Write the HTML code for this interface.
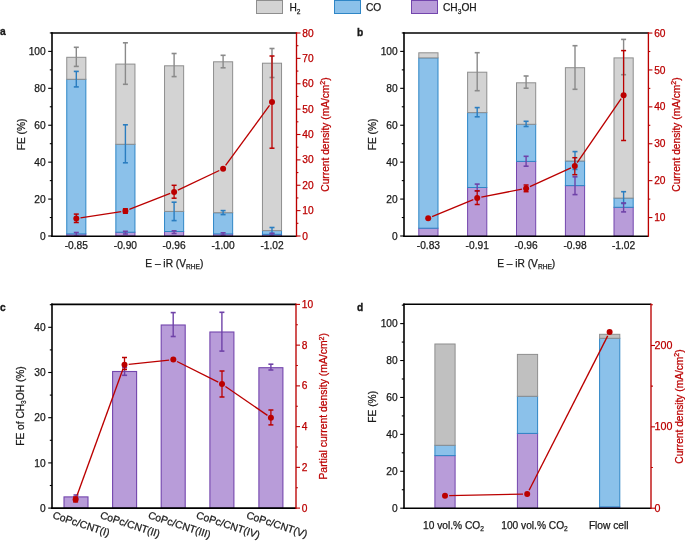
<!DOCTYPE html>
<html><head><meta charset="utf-8"><style>
html,body{margin:0;padding:0;background:#fff;width:685px;height:541px;overflow:hidden}
svg{display:block;will-change:transform}
text{font-family:"Liberation Sans", sans-serif}
</style></head><body>
<svg width="685" height="541" viewBox="0 0 685 541">
<rect x="0" y="0" width="685" height="541" fill="#fff"/>
<rect x="256.50" y="0.50" width="26.00" height="13.00" fill="#d3d3d3" stroke="#8e8e8e" stroke-width="1.0"/>
<text x="289.50" y="11.20" font-size="10.2" text-anchor="start" fill="#1a1a1a" stroke="#1a1a1a" stroke-width="0.25" font-weight="normal"><tspan font-size="10.2" dy="0.00">H</tspan><tspan font-size="6.6" dy="2.40">2</tspan></text>
<rect x="334.50" y="0.50" width="26.00" height="13.00" fill="#8bc1ea" stroke="#2f86c6" stroke-width="1.0"/>
<text x="366.00" y="11.20" font-size="10.2" text-anchor="start" fill="#1a1a1a" stroke="#1a1a1a" stroke-width="0.25" font-weight="normal">CO</text>
<rect x="411.50" y="0.50" width="26.00" height="13.00" fill="#b89cd9" stroke="#7346ad" stroke-width="1.0"/>
<text x="443.00" y="11.20" font-size="10.2" text-anchor="start" fill="#1a1a1a" stroke="#1a1a1a" stroke-width="0.25" font-weight="normal"><tspan font-size="10.2" dy="0.00">CH</tspan><tspan font-size="6.6" dy="2.40">3</tspan><tspan font-size="10.2" dy="-2.40">OH</tspan></text>
<rect x="66.75" y="233.90" width="19.10" height="2.10" fill="#b89cd9" stroke="#7346ad" stroke-width="1.0"/>
<rect x="66.75" y="79.30" width="19.10" height="154.60" fill="#8bc1ea" stroke="#2f86c6" stroke-width="1.0"/>
<rect x="66.75" y="57.30" width="19.10" height="22.00" fill="#d3d3d3" stroke="#8e8e8e" stroke-width="1.0"/>
<rect x="115.85" y="232.20" width="19.10" height="3.80" fill="#b89cd9" stroke="#7346ad" stroke-width="1.0"/>
<rect x="115.85" y="144.30" width="19.10" height="87.90" fill="#8bc1ea" stroke="#2f86c6" stroke-width="1.0"/>
<rect x="115.85" y="64.10" width="19.10" height="80.20" fill="#d3d3d3" stroke="#8e8e8e" stroke-width="1.0"/>
<rect x="164.55" y="231.50" width="19.10" height="4.50" fill="#b89cd9" stroke="#7346ad" stroke-width="1.0"/>
<rect x="164.55" y="211.40" width="19.10" height="20.10" fill="#8bc1ea" stroke="#2f86c6" stroke-width="1.0"/>
<rect x="164.55" y="65.80" width="19.10" height="145.60" fill="#d3d3d3" stroke="#8e8e8e" stroke-width="1.0"/>
<rect x="213.55" y="233.90" width="19.10" height="2.10" fill="#b89cd9" stroke="#7346ad" stroke-width="1.0"/>
<rect x="213.55" y="212.70" width="19.10" height="21.20" fill="#8bc1ea" stroke="#2f86c6" stroke-width="1.0"/>
<rect x="213.55" y="61.80" width="19.10" height="150.90" fill="#d3d3d3" stroke="#8e8e8e" stroke-width="1.0"/>
<rect x="262.45" y="234.30" width="19.10" height="1.70" fill="#b89cd9" stroke="#7346ad" stroke-width="1.0"/>
<rect x="262.45" y="230.60" width="19.10" height="3.70" fill="#8bc1ea" stroke="#2f86c6" stroke-width="1.0"/>
<rect x="262.45" y="63.20" width="19.10" height="167.40" fill="#d3d3d3" stroke="#8e8e8e" stroke-width="1.0"/>
<line x1="76.30" y1="47.30" x2="76.30" y2="66.40" stroke="#8a8a8a" stroke-width="1.4"/>
<line x1="73.80" y1="47.30" x2="78.80" y2="47.30" stroke="#8a8a8a" stroke-width="1.5999999999999999"/>
<line x1="73.80" y1="66.40" x2="78.80" y2="66.40" stroke="#8a8a8a" stroke-width="1.5999999999999999"/>
<line x1="125.40" y1="42.80" x2="125.40" y2="84.30" stroke="#8a8a8a" stroke-width="1.4"/>
<line x1="122.90" y1="42.80" x2="127.90" y2="42.80" stroke="#8a8a8a" stroke-width="1.5999999999999999"/>
<line x1="122.90" y1="84.30" x2="127.90" y2="84.30" stroke="#8a8a8a" stroke-width="1.5999999999999999"/>
<line x1="174.10" y1="53.50" x2="174.10" y2="76.60" stroke="#8a8a8a" stroke-width="1.4"/>
<line x1="171.60" y1="53.50" x2="176.60" y2="53.50" stroke="#8a8a8a" stroke-width="1.5999999999999999"/>
<line x1="171.60" y1="76.60" x2="176.60" y2="76.60" stroke="#8a8a8a" stroke-width="1.5999999999999999"/>
<line x1="223.10" y1="55.30" x2="223.10" y2="67.80" stroke="#8a8a8a" stroke-width="1.4"/>
<line x1="220.60" y1="55.30" x2="225.60" y2="55.30" stroke="#8a8a8a" stroke-width="1.5999999999999999"/>
<line x1="220.60" y1="67.80" x2="225.60" y2="67.80" stroke="#8a8a8a" stroke-width="1.5999999999999999"/>
<line x1="272.00" y1="48.50" x2="272.00" y2="77.50" stroke="#8a8a8a" stroke-width="1.4"/>
<line x1="269.50" y1="48.50" x2="274.50" y2="48.50" stroke="#8a8a8a" stroke-width="1.5999999999999999"/>
<line x1="269.50" y1="77.50" x2="274.50" y2="77.50" stroke="#8a8a8a" stroke-width="1.5999999999999999"/>
<line x1="76.30" y1="71.40" x2="76.30" y2="86.90" stroke="#2a7dc0" stroke-width="1.4"/>
<line x1="73.80" y1="71.40" x2="78.80" y2="71.40" stroke="#2a7dc0" stroke-width="1.5999999999999999"/>
<line x1="73.80" y1="86.90" x2="78.80" y2="86.90" stroke="#2a7dc0" stroke-width="1.5999999999999999"/>
<line x1="125.40" y1="124.80" x2="125.40" y2="162.80" stroke="#2a7dc0" stroke-width="1.4"/>
<line x1="122.90" y1="124.80" x2="127.90" y2="124.80" stroke="#2a7dc0" stroke-width="1.5999999999999999"/>
<line x1="122.90" y1="162.80" x2="127.90" y2="162.80" stroke="#2a7dc0" stroke-width="1.5999999999999999"/>
<line x1="174.10" y1="202.20" x2="174.10" y2="220.60" stroke="#2a7dc0" stroke-width="1.4"/>
<line x1="171.60" y1="202.20" x2="176.60" y2="202.20" stroke="#2a7dc0" stroke-width="1.5999999999999999"/>
<line x1="171.60" y1="220.60" x2="176.60" y2="220.60" stroke="#2a7dc0" stroke-width="1.5999999999999999"/>
<line x1="223.10" y1="210.60" x2="223.10" y2="214.60" stroke="#2a7dc0" stroke-width="1.4"/>
<line x1="220.60" y1="210.60" x2="225.60" y2="210.60" stroke="#2a7dc0" stroke-width="1.5999999999999999"/>
<line x1="220.60" y1="214.60" x2="225.60" y2="214.60" stroke="#2a7dc0" stroke-width="1.5999999999999999"/>
<line x1="272.00" y1="227.50" x2="272.00" y2="233.50" stroke="#2a7dc0" stroke-width="1.4"/>
<line x1="269.50" y1="227.50" x2="274.50" y2="227.50" stroke="#2a7dc0" stroke-width="1.5999999999999999"/>
<line x1="269.50" y1="233.50" x2="274.50" y2="233.50" stroke="#2a7dc0" stroke-width="1.5999999999999999"/>
<line x1="76.30" y1="232.50" x2="76.30" y2="236.00" stroke="#6f42a8" stroke-width="1.4"/>
<line x1="73.80" y1="232.50" x2="78.80" y2="232.50" stroke="#6f42a8" stroke-width="1.5999999999999999"/>
<line x1="73.80" y1="236.00" x2="78.80" y2="236.00" stroke="#6f42a8" stroke-width="1.5999999999999999"/>
<line x1="125.40" y1="231.30" x2="125.40" y2="234.00" stroke="#6f42a8" stroke-width="1.4"/>
<line x1="122.90" y1="231.30" x2="127.90" y2="231.30" stroke="#6f42a8" stroke-width="1.5999999999999999"/>
<line x1="122.90" y1="234.00" x2="127.90" y2="234.00" stroke="#6f42a8" stroke-width="1.5999999999999999"/>
<line x1="174.10" y1="230.80" x2="174.10" y2="233.50" stroke="#6f42a8" stroke-width="1.4"/>
<line x1="171.60" y1="230.80" x2="176.60" y2="230.80" stroke="#6f42a8" stroke-width="1.5999999999999999"/>
<line x1="171.60" y1="233.50" x2="176.60" y2="233.50" stroke="#6f42a8" stroke-width="1.5999999999999999"/>
<line x1="223.10" y1="232.80" x2="223.10" y2="235.20" stroke="#6f42a8" stroke-width="1.4"/>
<line x1="220.60" y1="232.80" x2="225.60" y2="232.80" stroke="#6f42a8" stroke-width="1.5999999999999999"/>
<line x1="220.60" y1="235.20" x2="225.60" y2="235.20" stroke="#6f42a8" stroke-width="1.5999999999999999"/>
<line x1="272.00" y1="233.30" x2="272.00" y2="235.50" stroke="#6f42a8" stroke-width="1.4"/>
<line x1="269.50" y1="233.30" x2="274.50" y2="233.30" stroke="#6f42a8" stroke-width="1.5999999999999999"/>
<line x1="269.50" y1="235.50" x2="274.50" y2="235.50" stroke="#6f42a8" stroke-width="1.5999999999999999"/>
<line x1="52.00" y1="32.20" x2="52.00" y2="237.10" stroke="#000" stroke-width="1.6"/>
<line x1="51.20" y1="33.00" x2="296.50" y2="33.00" stroke="#000" stroke-width="1.6"/>
<line x1="51.20" y1="236.30" x2="296.50" y2="236.30" stroke="#000" stroke-width="1.6"/>
<line x1="48.20" y1="236.00" x2="52.00" y2="236.00" stroke="#000" stroke-width="1.1"/>
<text x="45.70" y="239.60" font-size="10.2" text-anchor="end" fill="#1a1a1a" stroke="#1a1a1a" stroke-width="0.25" font-weight="normal">0</text>
<line x1="48.20" y1="199.08" x2="52.00" y2="199.08" stroke="#000" stroke-width="1.1"/>
<text x="45.70" y="202.68" font-size="10.2" text-anchor="end" fill="#1a1a1a" stroke="#1a1a1a" stroke-width="0.25" font-weight="normal">20</text>
<line x1="48.20" y1="162.16" x2="52.00" y2="162.16" stroke="#000" stroke-width="1.1"/>
<text x="45.70" y="165.76" font-size="10.2" text-anchor="end" fill="#1a1a1a" stroke="#1a1a1a" stroke-width="0.25" font-weight="normal">40</text>
<line x1="48.20" y1="125.24" x2="52.00" y2="125.24" stroke="#000" stroke-width="1.1"/>
<text x="45.70" y="128.84" font-size="10.2" text-anchor="end" fill="#1a1a1a" stroke="#1a1a1a" stroke-width="0.25" font-weight="normal">60</text>
<line x1="48.20" y1="88.32" x2="52.00" y2="88.32" stroke="#000" stroke-width="1.1"/>
<text x="45.70" y="91.92" font-size="10.2" text-anchor="end" fill="#1a1a1a" stroke="#1a1a1a" stroke-width="0.25" font-weight="normal">80</text>
<line x1="48.20" y1="51.40" x2="52.00" y2="51.40" stroke="#000" stroke-width="1.1"/>
<text x="45.70" y="55.00" font-size="10.2" text-anchor="end" fill="#1a1a1a" stroke="#1a1a1a" stroke-width="0.25" font-weight="normal">100</text>
<line x1="49.80" y1="217.54" x2="52.00" y2="217.54" stroke="#000" stroke-width="1.1"/>
<line x1="49.80" y1="180.62" x2="52.00" y2="180.62" stroke="#000" stroke-width="1.1"/>
<line x1="49.80" y1="143.70" x2="52.00" y2="143.70" stroke="#000" stroke-width="1.1"/>
<line x1="49.80" y1="106.78" x2="52.00" y2="106.78" stroke="#000" stroke-width="1.1"/>
<line x1="49.80" y1="69.86" x2="52.00" y2="69.86" stroke="#000" stroke-width="1.1"/>
<line x1="49.80" y1="32.94" x2="52.00" y2="32.94" stroke="#000" stroke-width="1.1"/>
<line x1="296.50" y1="32.15" x2="296.50" y2="236.85" stroke="#bb0000" stroke-width="1.35"/>
<line x1="296.50" y1="236.00" x2="300.50" y2="236.00" stroke="#bb0000" stroke-width="1.1"/>
<text x="302.30" y="239.60" font-size="10.2" text-anchor="start" fill="#bb0000" stroke="#bb0000" stroke-width="0.25" font-weight="normal">0</text>
<line x1="296.50" y1="210.62" x2="300.50" y2="210.62" stroke="#bb0000" stroke-width="1.1"/>
<text x="302.30" y="214.22" font-size="10.2" text-anchor="start" fill="#bb0000" stroke="#bb0000" stroke-width="0.25" font-weight="normal">10</text>
<line x1="296.50" y1="185.25" x2="300.50" y2="185.25" stroke="#bb0000" stroke-width="1.1"/>
<text x="302.30" y="188.85" font-size="10.2" text-anchor="start" fill="#bb0000" stroke="#bb0000" stroke-width="0.25" font-weight="normal">20</text>
<line x1="296.50" y1="159.88" x2="300.50" y2="159.88" stroke="#bb0000" stroke-width="1.1"/>
<text x="302.30" y="163.47" font-size="10.2" text-anchor="start" fill="#bb0000" stroke="#bb0000" stroke-width="0.25" font-weight="normal">30</text>
<line x1="296.50" y1="134.50" x2="300.50" y2="134.50" stroke="#bb0000" stroke-width="1.1"/>
<text x="302.30" y="138.10" font-size="10.2" text-anchor="start" fill="#bb0000" stroke="#bb0000" stroke-width="0.25" font-weight="normal">40</text>
<line x1="296.50" y1="109.12" x2="300.50" y2="109.12" stroke="#bb0000" stroke-width="1.1"/>
<text x="302.30" y="112.72" font-size="10.2" text-anchor="start" fill="#bb0000" stroke="#bb0000" stroke-width="0.25" font-weight="normal">50</text>
<line x1="296.50" y1="83.75" x2="300.50" y2="83.75" stroke="#bb0000" stroke-width="1.1"/>
<text x="302.30" y="87.35" font-size="10.2" text-anchor="start" fill="#bb0000" stroke="#bb0000" stroke-width="0.25" font-weight="normal">60</text>
<line x1="296.50" y1="58.38" x2="300.50" y2="58.38" stroke="#bb0000" stroke-width="1.1"/>
<text x="302.30" y="61.98" font-size="10.2" text-anchor="start" fill="#bb0000" stroke="#bb0000" stroke-width="0.25" font-weight="normal">70</text>
<line x1="296.50" y1="33.00" x2="300.50" y2="33.00" stroke="#bb0000" stroke-width="1.1"/>
<text x="302.30" y="36.60" font-size="10.2" text-anchor="start" fill="#bb0000" stroke="#bb0000" stroke-width="0.25" font-weight="normal">80</text>
<line x1="296.50" y1="223.31" x2="298.40" y2="223.31" stroke="#bb0000" stroke-width="1.1"/>
<line x1="296.50" y1="197.94" x2="298.40" y2="197.94" stroke="#bb0000" stroke-width="1.1"/>
<line x1="296.50" y1="172.56" x2="298.40" y2="172.56" stroke="#bb0000" stroke-width="1.1"/>
<line x1="296.50" y1="147.19" x2="298.40" y2="147.19" stroke="#bb0000" stroke-width="1.1"/>
<line x1="296.50" y1="121.81" x2="298.40" y2="121.81" stroke="#bb0000" stroke-width="1.1"/>
<line x1="296.50" y1="96.44" x2="298.40" y2="96.44" stroke="#bb0000" stroke-width="1.1"/>
<line x1="296.50" y1="71.06" x2="298.40" y2="71.06" stroke="#bb0000" stroke-width="1.1"/>
<line x1="296.50" y1="45.69" x2="298.40" y2="45.69" stroke="#bb0000" stroke-width="1.1"/>
<line x1="80.45" y1="217.87" x2="121.25" y2="211.63" stroke="#bb0000" stroke-width="1.35"/>
<line x1="129.31" y1="209.47" x2="170.19" y2="193.43" stroke="#bb0000" stroke-width="1.35"/>
<line x1="177.90" y1="190.10" x2="219.30" y2="170.50" stroke="#bb0000" stroke-width="1.35"/>
<line x1="225.58" y1="165.31" x2="269.52" y2="105.39" stroke="#bb0000" stroke-width="1.35"/>
<line x1="76.30" y1="214.10" x2="76.30" y2="222.50" stroke="#bb0000" stroke-width="1.3"/>
<line x1="73.80" y1="214.10" x2="78.80" y2="214.10" stroke="#bb0000" stroke-width="1.5"/>
<line x1="73.80" y1="222.50" x2="78.80" y2="222.50" stroke="#bb0000" stroke-width="1.5"/>
<line x1="125.40" y1="208.80" x2="125.40" y2="213.20" stroke="#bb0000" stroke-width="1.3"/>
<line x1="122.90" y1="208.80" x2="127.90" y2="208.80" stroke="#bb0000" stroke-width="1.5"/>
<line x1="122.90" y1="213.20" x2="127.90" y2="213.20" stroke="#bb0000" stroke-width="1.5"/>
<line x1="174.10" y1="185.30" x2="174.10" y2="198.20" stroke="#bb0000" stroke-width="1.3"/>
<line x1="171.60" y1="185.30" x2="176.60" y2="185.30" stroke="#bb0000" stroke-width="1.5"/>
<line x1="171.60" y1="198.20" x2="176.60" y2="198.20" stroke="#bb0000" stroke-width="1.5"/>
<line x1="272.00" y1="56.00" x2="272.00" y2="148.20" stroke="#bb0000" stroke-width="1.3"/>
<line x1="269.50" y1="56.00" x2="274.50" y2="56.00" stroke="#bb0000" stroke-width="1.5"/>
<line x1="269.50" y1="148.20" x2="274.50" y2="148.20" stroke="#bb0000" stroke-width="1.5"/>
<circle cx="76.30" cy="218.50" r="3.0" fill="#bb0000"/>
<circle cx="125.40" cy="211.00" r="3.0" fill="#bb0000"/>
<circle cx="174.10" cy="191.90" r="3.0" fill="#bb0000"/>
<circle cx="223.10" cy="168.70" r="3.0" fill="#bb0000"/>
<circle cx="272.00" cy="102.00" r="3.0" fill="#bb0000"/>
<text x="76.30" y="249.00" font-size="10.2" text-anchor="middle" fill="#1a1a1a" stroke="#1a1a1a" stroke-width="0.25" font-weight="normal">-0.85</text>
<text x="125.40" y="249.00" font-size="10.2" text-anchor="middle" fill="#1a1a1a" stroke="#1a1a1a" stroke-width="0.25" font-weight="normal">-0.90</text>
<text x="174.10" y="249.00" font-size="10.2" text-anchor="middle" fill="#1a1a1a" stroke="#1a1a1a" stroke-width="0.25" font-weight="normal">-0.96</text>
<text x="223.10" y="249.00" font-size="10.2" text-anchor="middle" fill="#1a1a1a" stroke="#1a1a1a" stroke-width="0.25" font-weight="normal">-1.00</text>
<text x="272.00" y="249.00" font-size="10.2" text-anchor="middle" fill="#1a1a1a" stroke="#1a1a1a" stroke-width="0.25" font-weight="normal">-1.02</text>
<text x="174.30" y="267.00" font-size="10.2" text-anchor="middle" fill="#1a1a1a" stroke="#1a1a1a" stroke-width="0.25" font-weight="normal"><tspan font-size="10.2" dy="0.00">E – iR (V</tspan><tspan font-size="6.6" dy="2.40">RHE</tspan><tspan font-size="10.2" dy="-2.40">)</tspan></text>
<text transform="translate(24.60,134.50) rotate(-90)" x="0" y="0" font-size="10.2" text-anchor="middle" fill="#1a1a1a" stroke="#1a1a1a" stroke-width="0.25">FE (%)</text>
<text transform="translate(328.50,134.50) rotate(-90)" x="0" y="0" font-size="10.2" text-anchor="middle" fill="#bb0000" stroke="#bb0000" stroke-width="0.25"><tspan font-size="10.2" dy="0.00">Current density (mA/cm</tspan><tspan font-size="7" dy="-3.60">2</tspan><tspan font-size="10.2" dy="3.60">)</tspan></text>
<text x="0.00" y="35.30" font-size="10.2" text-anchor="start" fill="#1a1a1a" stroke="#1a1a1a" stroke-width="0.35" font-weight="bold">a</text>
<rect x="418.80" y="228.20" width="19.20" height="7.80" fill="#b89cd9" stroke="#7346ad" stroke-width="1.0"/>
<rect x="418.80" y="57.90" width="19.20" height="170.30" fill="#8bc1ea" stroke="#2f86c6" stroke-width="1.0"/>
<rect x="418.80" y="52.80" width="19.20" height="5.10" fill="#d3d3d3" stroke="#8e8e8e" stroke-width="1.0"/>
<rect x="467.60" y="187.50" width="19.20" height="48.50" fill="#b89cd9" stroke="#7346ad" stroke-width="1.0"/>
<rect x="467.60" y="112.60" width="19.20" height="74.90" fill="#8bc1ea" stroke="#2f86c6" stroke-width="1.0"/>
<rect x="467.60" y="72.20" width="19.20" height="40.40" fill="#d3d3d3" stroke="#8e8e8e" stroke-width="1.0"/>
<rect x="516.50" y="161.40" width="19.20" height="74.60" fill="#b89cd9" stroke="#7346ad" stroke-width="1.0"/>
<rect x="516.50" y="124.30" width="19.20" height="37.10" fill="#8bc1ea" stroke="#2f86c6" stroke-width="1.0"/>
<rect x="516.50" y="82.80" width="19.20" height="41.50" fill="#d3d3d3" stroke="#8e8e8e" stroke-width="1.0"/>
<rect x="565.40" y="185.60" width="19.20" height="50.40" fill="#b89cd9" stroke="#7346ad" stroke-width="1.0"/>
<rect x="565.40" y="161.00" width="19.20" height="24.60" fill="#8bc1ea" stroke="#2f86c6" stroke-width="1.0"/>
<rect x="565.40" y="67.70" width="19.20" height="93.30" fill="#d3d3d3" stroke="#8e8e8e" stroke-width="1.0"/>
<rect x="614.00" y="207.30" width="19.20" height="28.70" fill="#b89cd9" stroke="#7346ad" stroke-width="1.0"/>
<rect x="614.00" y="198.10" width="19.20" height="9.20" fill="#8bc1ea" stroke="#2f86c6" stroke-width="1.0"/>
<rect x="614.00" y="57.90" width="19.20" height="140.20" fill="#d3d3d3" stroke="#8e8e8e" stroke-width="1.0"/>
<line x1="477.20" y1="52.70" x2="477.20" y2="90.70" stroke="#8a8a8a" stroke-width="1.4"/>
<line x1="474.70" y1="52.70" x2="479.70" y2="52.70" stroke="#8a8a8a" stroke-width="1.5999999999999999"/>
<line x1="474.70" y1="90.70" x2="479.70" y2="90.70" stroke="#8a8a8a" stroke-width="1.5999999999999999"/>
<line x1="526.10" y1="76.00" x2="526.10" y2="88.20" stroke="#8a8a8a" stroke-width="1.4"/>
<line x1="523.60" y1="76.00" x2="528.60" y2="76.00" stroke="#8a8a8a" stroke-width="1.5999999999999999"/>
<line x1="523.60" y1="88.20" x2="528.60" y2="88.20" stroke="#8a8a8a" stroke-width="1.5999999999999999"/>
<line x1="575.00" y1="45.70" x2="575.00" y2="89.30" stroke="#8a8a8a" stroke-width="1.4"/>
<line x1="572.50" y1="45.70" x2="577.50" y2="45.70" stroke="#8a8a8a" stroke-width="1.5999999999999999"/>
<line x1="572.50" y1="89.30" x2="577.50" y2="89.30" stroke="#8a8a8a" stroke-width="1.5999999999999999"/>
<line x1="623.60" y1="39.40" x2="623.60" y2="74.70" stroke="#8a8a8a" stroke-width="1.4"/>
<line x1="621.10" y1="39.40" x2="626.10" y2="39.40" stroke="#8a8a8a" stroke-width="1.5999999999999999"/>
<line x1="621.10" y1="74.70" x2="626.10" y2="74.70" stroke="#8a8a8a" stroke-width="1.5999999999999999"/>
<line x1="477.20" y1="107.60" x2="477.20" y2="116.80" stroke="#2a7dc0" stroke-width="1.4"/>
<line x1="474.70" y1="107.60" x2="479.70" y2="107.60" stroke="#2a7dc0" stroke-width="1.5999999999999999"/>
<line x1="474.70" y1="116.80" x2="479.70" y2="116.80" stroke="#2a7dc0" stroke-width="1.5999999999999999"/>
<line x1="526.10" y1="121.30" x2="526.10" y2="126.50" stroke="#2a7dc0" stroke-width="1.4"/>
<line x1="523.60" y1="121.30" x2="528.60" y2="121.30" stroke="#2a7dc0" stroke-width="1.5999999999999999"/>
<line x1="523.60" y1="126.50" x2="528.60" y2="126.50" stroke="#2a7dc0" stroke-width="1.5999999999999999"/>
<line x1="575.00" y1="151.60" x2="575.00" y2="169.40" stroke="#2a7dc0" stroke-width="1.4"/>
<line x1="572.50" y1="151.60" x2="577.50" y2="151.60" stroke="#2a7dc0" stroke-width="1.5999999999999999"/>
<line x1="572.50" y1="169.40" x2="577.50" y2="169.40" stroke="#2a7dc0" stroke-width="1.5999999999999999"/>
<line x1="623.60" y1="191.70" x2="623.60" y2="203.50" stroke="#2a7dc0" stroke-width="1.4"/>
<line x1="621.10" y1="191.70" x2="626.10" y2="191.70" stroke="#2a7dc0" stroke-width="1.5999999999999999"/>
<line x1="621.10" y1="203.50" x2="626.10" y2="203.50" stroke="#2a7dc0" stroke-width="1.5999999999999999"/>
<line x1="477.20" y1="184.10" x2="477.20" y2="191.10" stroke="#6f42a8" stroke-width="1.4"/>
<line x1="474.70" y1="184.10" x2="479.70" y2="184.10" stroke="#6f42a8" stroke-width="1.5999999999999999"/>
<line x1="474.70" y1="191.10" x2="479.70" y2="191.10" stroke="#6f42a8" stroke-width="1.5999999999999999"/>
<line x1="526.10" y1="156.30" x2="526.10" y2="166.20" stroke="#6f42a8" stroke-width="1.4"/>
<line x1="523.60" y1="156.30" x2="528.60" y2="156.30" stroke="#6f42a8" stroke-width="1.5999999999999999"/>
<line x1="523.60" y1="166.20" x2="528.60" y2="166.20" stroke="#6f42a8" stroke-width="1.5999999999999999"/>
<line x1="575.00" y1="176.80" x2="575.00" y2="194.60" stroke="#6f42a8" stroke-width="1.4"/>
<line x1="572.50" y1="176.80" x2="577.50" y2="176.80" stroke="#6f42a8" stroke-width="1.5999999999999999"/>
<line x1="572.50" y1="194.60" x2="577.50" y2="194.60" stroke="#6f42a8" stroke-width="1.5999999999999999"/>
<line x1="623.60" y1="203.00" x2="623.60" y2="211.90" stroke="#6f42a8" stroke-width="1.4"/>
<line x1="621.10" y1="203.00" x2="626.10" y2="203.00" stroke="#6f42a8" stroke-width="1.5999999999999999"/>
<line x1="621.10" y1="211.90" x2="626.10" y2="211.90" stroke="#6f42a8" stroke-width="1.5999999999999999"/>
<line x1="404.00" y1="32.20" x2="404.00" y2="237.10" stroke="#000" stroke-width="1.6"/>
<line x1="403.20" y1="33.00" x2="648.40" y2="33.00" stroke="#000" stroke-width="1.6"/>
<line x1="403.20" y1="236.30" x2="648.40" y2="236.30" stroke="#000" stroke-width="1.6"/>
<line x1="400.20" y1="236.00" x2="404.00" y2="236.00" stroke="#000" stroke-width="1.1"/>
<text x="397.70" y="239.60" font-size="10.2" text-anchor="end" fill="#1a1a1a" stroke="#1a1a1a" stroke-width="0.25" font-weight="normal">0</text>
<line x1="400.20" y1="199.08" x2="404.00" y2="199.08" stroke="#000" stroke-width="1.1"/>
<text x="397.70" y="202.68" font-size="10.2" text-anchor="end" fill="#1a1a1a" stroke="#1a1a1a" stroke-width="0.25" font-weight="normal">20</text>
<line x1="400.20" y1="162.16" x2="404.00" y2="162.16" stroke="#000" stroke-width="1.1"/>
<text x="397.70" y="165.76" font-size="10.2" text-anchor="end" fill="#1a1a1a" stroke="#1a1a1a" stroke-width="0.25" font-weight="normal">40</text>
<line x1="400.20" y1="125.24" x2="404.00" y2="125.24" stroke="#000" stroke-width="1.1"/>
<text x="397.70" y="128.84" font-size="10.2" text-anchor="end" fill="#1a1a1a" stroke="#1a1a1a" stroke-width="0.25" font-weight="normal">60</text>
<line x1="400.20" y1="88.32" x2="404.00" y2="88.32" stroke="#000" stroke-width="1.1"/>
<text x="397.70" y="91.92" font-size="10.2" text-anchor="end" fill="#1a1a1a" stroke="#1a1a1a" stroke-width="0.25" font-weight="normal">80</text>
<line x1="400.20" y1="51.40" x2="404.00" y2="51.40" stroke="#000" stroke-width="1.1"/>
<text x="397.70" y="55.00" font-size="10.2" text-anchor="end" fill="#1a1a1a" stroke="#1a1a1a" stroke-width="0.25" font-weight="normal">100</text>
<line x1="401.80" y1="217.54" x2="404.00" y2="217.54" stroke="#000" stroke-width="1.1"/>
<line x1="401.80" y1="180.62" x2="404.00" y2="180.62" stroke="#000" stroke-width="1.1"/>
<line x1="401.80" y1="143.70" x2="404.00" y2="143.70" stroke="#000" stroke-width="1.1"/>
<line x1="401.80" y1="106.78" x2="404.00" y2="106.78" stroke="#000" stroke-width="1.1"/>
<line x1="401.80" y1="69.86" x2="404.00" y2="69.86" stroke="#000" stroke-width="1.1"/>
<line x1="401.80" y1="32.94" x2="404.00" y2="32.94" stroke="#000" stroke-width="1.1"/>
<line x1="648.40" y1="32.15" x2="648.40" y2="236.85" stroke="#bb0000" stroke-width="1.35"/>
<line x1="648.40" y1="217.55" x2="652.40" y2="217.55" stroke="#bb0000" stroke-width="1.1"/>
<text x="654.20" y="221.15" font-size="10.2" text-anchor="start" fill="#bb0000" stroke="#bb0000" stroke-width="0.25" font-weight="normal">10</text>
<line x1="648.40" y1="180.65" x2="652.40" y2="180.65" stroke="#bb0000" stroke-width="1.1"/>
<text x="654.20" y="184.25" font-size="10.2" text-anchor="start" fill="#bb0000" stroke="#bb0000" stroke-width="0.25" font-weight="normal">20</text>
<line x1="648.40" y1="143.75" x2="652.40" y2="143.75" stroke="#bb0000" stroke-width="1.1"/>
<text x="654.20" y="147.35" font-size="10.2" text-anchor="start" fill="#bb0000" stroke="#bb0000" stroke-width="0.25" font-weight="normal">30</text>
<line x1="648.40" y1="106.85" x2="652.40" y2="106.85" stroke="#bb0000" stroke-width="1.1"/>
<text x="654.20" y="110.45" font-size="10.2" text-anchor="start" fill="#bb0000" stroke="#bb0000" stroke-width="0.25" font-weight="normal">40</text>
<line x1="648.40" y1="69.95" x2="652.40" y2="69.95" stroke="#bb0000" stroke-width="1.1"/>
<text x="654.20" y="73.55" font-size="10.2" text-anchor="start" fill="#bb0000" stroke="#bb0000" stroke-width="0.25" font-weight="normal">50</text>
<line x1="648.40" y1="33.05" x2="652.40" y2="33.05" stroke="#bb0000" stroke-width="1.1"/>
<text x="654.20" y="36.65" font-size="10.2" text-anchor="start" fill="#bb0000" stroke="#bb0000" stroke-width="0.25" font-weight="normal">60</text>
<line x1="648.40" y1="199.10" x2="650.30" y2="199.10" stroke="#bb0000" stroke-width="1.1"/>
<line x1="648.40" y1="162.20" x2="650.30" y2="162.20" stroke="#bb0000" stroke-width="1.1"/>
<line x1="648.40" y1="125.30" x2="650.30" y2="125.30" stroke="#bb0000" stroke-width="1.1"/>
<line x1="648.40" y1="88.40" x2="650.30" y2="88.40" stroke="#bb0000" stroke-width="1.1"/>
<line x1="648.40" y1="51.50" x2="650.30" y2="51.50" stroke="#bb0000" stroke-width="1.1"/>
<line x1="432.08" y1="216.69" x2="473.32" y2="199.51" stroke="#bb0000" stroke-width="1.35"/>
<line x1="481.32" y1="197.10" x2="521.98" y2="189.20" stroke="#bb0000" stroke-width="1.35"/>
<line x1="529.92" y1="186.65" x2="570.98" y2="167.85" stroke="#bb0000" stroke-width="1.35"/>
<line x1="577.18" y1="162.64" x2="621.22" y2="98.66" stroke="#bb0000" stroke-width="1.35"/>
<line x1="477.20" y1="190.80" x2="477.20" y2="204.50" stroke="#bb0000" stroke-width="1.3"/>
<line x1="474.70" y1="190.80" x2="479.70" y2="190.80" stroke="#bb0000" stroke-width="1.5"/>
<line x1="474.70" y1="204.50" x2="479.70" y2="204.50" stroke="#bb0000" stroke-width="1.5"/>
<line x1="526.10" y1="185.00" x2="526.10" y2="191.70" stroke="#bb0000" stroke-width="1.3"/>
<line x1="523.60" y1="185.00" x2="528.60" y2="185.00" stroke="#bb0000" stroke-width="1.5"/>
<line x1="523.60" y1="191.70" x2="528.60" y2="191.70" stroke="#bb0000" stroke-width="1.5"/>
<line x1="574.80" y1="157.70" x2="574.80" y2="174.70" stroke="#bb0000" stroke-width="1.3"/>
<line x1="572.30" y1="157.70" x2="577.30" y2="157.70" stroke="#bb0000" stroke-width="1.5"/>
<line x1="572.30" y1="174.70" x2="577.30" y2="174.70" stroke="#bb0000" stroke-width="1.5"/>
<line x1="623.60" y1="50.60" x2="623.60" y2="140.50" stroke="#bb0000" stroke-width="1.3"/>
<line x1="621.10" y1="50.60" x2="626.10" y2="50.60" stroke="#bb0000" stroke-width="1.5"/>
<line x1="621.10" y1="140.50" x2="626.10" y2="140.50" stroke="#bb0000" stroke-width="1.5"/>
<circle cx="428.20" cy="218.30" r="3.0" fill="#bb0000"/>
<circle cx="477.20" cy="197.90" r="3.0" fill="#bb0000"/>
<circle cx="526.10" cy="188.40" r="3.0" fill="#bb0000"/>
<circle cx="574.80" cy="166.10" r="3.0" fill="#bb0000"/>
<circle cx="623.60" cy="95.20" r="3.0" fill="#bb0000"/>
<text x="428.40" y="249.00" font-size="10.2" text-anchor="middle" fill="#1a1a1a" stroke="#1a1a1a" stroke-width="0.25" font-weight="normal">-0.83</text>
<text x="477.20" y="249.00" font-size="10.2" text-anchor="middle" fill="#1a1a1a" stroke="#1a1a1a" stroke-width="0.25" font-weight="normal">-0.91</text>
<text x="526.10" y="249.00" font-size="10.2" text-anchor="middle" fill="#1a1a1a" stroke="#1a1a1a" stroke-width="0.25" font-weight="normal">-0.96</text>
<text x="575.00" y="249.00" font-size="10.2" text-anchor="middle" fill="#1a1a1a" stroke="#1a1a1a" stroke-width="0.25" font-weight="normal">-0.98</text>
<text x="623.60" y="249.00" font-size="10.2" text-anchor="middle" fill="#1a1a1a" stroke="#1a1a1a" stroke-width="0.25" font-weight="normal">-1.02</text>
<text x="526.20" y="267.00" font-size="10.2" text-anchor="middle" fill="#1a1a1a" stroke="#1a1a1a" stroke-width="0.25" font-weight="normal"><tspan font-size="10.2" dy="0.00">E – iR (V</tspan><tspan font-size="6.6" dy="2.40">RHE</tspan><tspan font-size="10.2" dy="-2.40">)</tspan></text>
<text transform="translate(376.00,134.50) rotate(-90)" x="0" y="0" font-size="10.2" text-anchor="middle" fill="#1a1a1a" stroke="#1a1a1a" stroke-width="0.25">FE (%)</text>
<text transform="translate(679.50,134.50) rotate(-90)" x="0" y="0" font-size="10.2" text-anchor="middle" fill="#bb0000" stroke="#bb0000" stroke-width="0.25"><tspan font-size="10.2" dy="0.00">Current density (mA/cm</tspan><tspan font-size="7" dy="-3.60">2</tspan><tspan font-size="10.2" dy="3.60">)</tspan></text>
<text x="357.00" y="35.60" font-size="10.2" text-anchor="start" fill="#1a1a1a" stroke="#1a1a1a" stroke-width="0.35" font-weight="bold">b</text>
<rect x="64.00" y="496.90" width="24.00" height="11.20" fill="#b89cd9" stroke="#7346ad" stroke-width="1.1"/>
<rect x="112.60" y="371.50" width="24.00" height="136.60" fill="#b89cd9" stroke="#7346ad" stroke-width="1.1"/>
<rect x="161.20" y="325.00" width="24.00" height="183.10" fill="#b89cd9" stroke="#7346ad" stroke-width="1.1"/>
<rect x="209.90" y="332.00" width="24.00" height="176.10" fill="#b89cd9" stroke="#7346ad" stroke-width="1.1"/>
<rect x="258.90" y="367.70" width="24.00" height="140.40" fill="#b89cd9" stroke="#7346ad" stroke-width="1.1"/>
<line x1="76.00" y1="495.00" x2="76.00" y2="498.50" stroke="#6f42a8" stroke-width="1.4"/>
<line x1="73.50" y1="495.00" x2="78.50" y2="495.00" stroke="#6f42a8" stroke-width="1.5999999999999999"/>
<line x1="73.50" y1="498.50" x2="78.50" y2="498.50" stroke="#6f42a8" stroke-width="1.5999999999999999"/>
<line x1="124.60" y1="367.70" x2="124.60" y2="375.30" stroke="#6f42a8" stroke-width="1.4"/>
<line x1="122.10" y1="367.70" x2="127.10" y2="367.70" stroke="#6f42a8" stroke-width="1.5999999999999999"/>
<line x1="122.10" y1="375.30" x2="127.10" y2="375.30" stroke="#6f42a8" stroke-width="1.5999999999999999"/>
<line x1="173.20" y1="312.60" x2="173.20" y2="336.50" stroke="#6f42a8" stroke-width="1.4"/>
<line x1="170.70" y1="312.60" x2="175.70" y2="312.60" stroke="#6f42a8" stroke-width="1.5999999999999999"/>
<line x1="170.70" y1="336.50" x2="175.70" y2="336.50" stroke="#6f42a8" stroke-width="1.5999999999999999"/>
<line x1="221.90" y1="312.30" x2="221.90" y2="351.10" stroke="#6f42a8" stroke-width="1.4"/>
<line x1="219.40" y1="312.30" x2="224.40" y2="312.30" stroke="#6f42a8" stroke-width="1.5999999999999999"/>
<line x1="219.40" y1="351.10" x2="224.40" y2="351.10" stroke="#6f42a8" stroke-width="1.5999999999999999"/>
<line x1="270.90" y1="364.20" x2="270.90" y2="370.00" stroke="#6f42a8" stroke-width="1.4"/>
<line x1="268.40" y1="364.20" x2="273.40" y2="364.20" stroke="#6f42a8" stroke-width="1.5999999999999999"/>
<line x1="268.40" y1="370.00" x2="273.40" y2="370.00" stroke="#6f42a8" stroke-width="1.5999999999999999"/>
<line x1="52.00" y1="303.60" x2="52.00" y2="508.90" stroke="#000" stroke-width="1.6"/>
<line x1="51.20" y1="304.40" x2="296.00" y2="304.40" stroke="#000" stroke-width="1.6"/>
<line x1="51.20" y1="508.10" x2="296.00" y2="508.10" stroke="#000" stroke-width="1.6"/>
<line x1="48.20" y1="508.10" x2="52.00" y2="508.10" stroke="#000" stroke-width="1.1"/>
<text x="45.70" y="511.70" font-size="10.2" text-anchor="end" fill="#1a1a1a" stroke="#1a1a1a" stroke-width="0.25" font-weight="normal">0</text>
<line x1="48.20" y1="462.90" x2="52.00" y2="462.90" stroke="#000" stroke-width="1.1"/>
<text x="45.70" y="466.50" font-size="10.2" text-anchor="end" fill="#1a1a1a" stroke="#1a1a1a" stroke-width="0.25" font-weight="normal">10</text>
<line x1="48.20" y1="417.70" x2="52.00" y2="417.70" stroke="#000" stroke-width="1.1"/>
<text x="45.70" y="421.30" font-size="10.2" text-anchor="end" fill="#1a1a1a" stroke="#1a1a1a" stroke-width="0.25" font-weight="normal">20</text>
<line x1="48.20" y1="372.50" x2="52.00" y2="372.50" stroke="#000" stroke-width="1.1"/>
<text x="45.70" y="376.10" font-size="10.2" text-anchor="end" fill="#1a1a1a" stroke="#1a1a1a" stroke-width="0.25" font-weight="normal">30</text>
<line x1="48.20" y1="327.30" x2="52.00" y2="327.30" stroke="#000" stroke-width="1.1"/>
<text x="45.70" y="330.90" font-size="10.2" text-anchor="end" fill="#1a1a1a" stroke="#1a1a1a" stroke-width="0.25" font-weight="normal">40</text>
<line x1="49.80" y1="485.50" x2="52.00" y2="485.50" stroke="#000" stroke-width="1.1"/>
<line x1="49.80" y1="440.30" x2="52.00" y2="440.30" stroke="#000" stroke-width="1.1"/>
<line x1="49.80" y1="395.10" x2="52.00" y2="395.10" stroke="#000" stroke-width="1.1"/>
<line x1="49.80" y1="349.90" x2="52.00" y2="349.90" stroke="#000" stroke-width="1.1"/>
<line x1="49.80" y1="304.70" x2="52.00" y2="304.70" stroke="#000" stroke-width="1.1"/>
<line x1="296.00" y1="303.55" x2="296.00" y2="508.95" stroke="#bb0000" stroke-width="1.35"/>
<line x1="296.00" y1="508.10" x2="300.00" y2="508.10" stroke="#bb0000" stroke-width="1.1"/>
<text x="301.80" y="511.70" font-size="10.2" text-anchor="start" fill="#bb0000" stroke="#bb0000" stroke-width="0.25" font-weight="normal">0</text>
<line x1="296.00" y1="467.36" x2="300.00" y2="467.36" stroke="#bb0000" stroke-width="1.1"/>
<text x="301.80" y="470.96" font-size="10.2" text-anchor="start" fill="#bb0000" stroke="#bb0000" stroke-width="0.25" font-weight="normal">2</text>
<line x1="296.00" y1="426.62" x2="300.00" y2="426.62" stroke="#bb0000" stroke-width="1.1"/>
<text x="301.80" y="430.22" font-size="10.2" text-anchor="start" fill="#bb0000" stroke="#bb0000" stroke-width="0.25" font-weight="normal">4</text>
<line x1="296.00" y1="385.88" x2="300.00" y2="385.88" stroke="#bb0000" stroke-width="1.1"/>
<text x="301.80" y="389.48" font-size="10.2" text-anchor="start" fill="#bb0000" stroke="#bb0000" stroke-width="0.25" font-weight="normal">6</text>
<line x1="296.00" y1="345.14" x2="300.00" y2="345.14" stroke="#bb0000" stroke-width="1.1"/>
<text x="301.80" y="348.74" font-size="10.2" text-anchor="start" fill="#bb0000" stroke="#bb0000" stroke-width="0.25" font-weight="normal">8</text>
<line x1="296.00" y1="304.40" x2="300.00" y2="304.40" stroke="#bb0000" stroke-width="1.1"/>
<text x="301.80" y="308.00" font-size="10.2" text-anchor="start" fill="#bb0000" stroke="#bb0000" stroke-width="0.25" font-weight="normal">10</text>
<line x1="296.00" y1="487.73" x2="297.90" y2="487.73" stroke="#bb0000" stroke-width="1.1"/>
<line x1="296.00" y1="446.99" x2="297.90" y2="446.99" stroke="#bb0000" stroke-width="1.1"/>
<line x1="296.00" y1="406.25" x2="297.90" y2="406.25" stroke="#bb0000" stroke-width="1.1"/>
<line x1="296.00" y1="365.51" x2="297.90" y2="365.51" stroke="#bb0000" stroke-width="1.1"/>
<line x1="296.00" y1="324.77" x2="297.90" y2="324.77" stroke="#bb0000" stroke-width="1.1"/>
<line x1="77.03" y1="495.45" x2="123.07" y2="368.75" stroke="#bb0000" stroke-width="1.35"/>
<line x1="128.68" y1="364.35" x2="169.12" y2="360.05" stroke="#bb0000" stroke-width="1.35"/>
<line x1="177.05" y1="361.49" x2="218.25" y2="382.21" stroke="#bb0000" stroke-width="1.35"/>
<line x1="225.46" y1="386.48" x2="267.44" y2="415.32" stroke="#bb0000" stroke-width="1.35"/>
<line x1="75.60" y1="497.00" x2="75.60" y2="501.90" stroke="#bb0000" stroke-width="1.3"/>
<line x1="73.10" y1="497.00" x2="78.10" y2="497.00" stroke="#bb0000" stroke-width="1.5"/>
<line x1="73.10" y1="501.90" x2="78.10" y2="501.90" stroke="#bb0000" stroke-width="1.5"/>
<line x1="124.50" y1="357.50" x2="124.50" y2="369.50" stroke="#bb0000" stroke-width="1.3"/>
<line x1="122.00" y1="357.50" x2="127.00" y2="357.50" stroke="#bb0000" stroke-width="1.5"/>
<line x1="122.00" y1="369.50" x2="127.00" y2="369.50" stroke="#bb0000" stroke-width="1.5"/>
<line x1="222.00" y1="371.00" x2="222.00" y2="397.00" stroke="#bb0000" stroke-width="1.3"/>
<line x1="219.50" y1="371.00" x2="224.50" y2="371.00" stroke="#bb0000" stroke-width="1.5"/>
<line x1="219.50" y1="397.00" x2="224.50" y2="397.00" stroke="#bb0000" stroke-width="1.5"/>
<line x1="270.90" y1="410.00" x2="270.90" y2="424.90" stroke="#bb0000" stroke-width="1.3"/>
<line x1="268.40" y1="410.00" x2="273.40" y2="410.00" stroke="#bb0000" stroke-width="1.5"/>
<line x1="268.40" y1="424.90" x2="273.40" y2="424.90" stroke="#bb0000" stroke-width="1.5"/>
<circle cx="75.60" cy="499.40" r="3.0" fill="#bb0000"/>
<circle cx="124.50" cy="364.80" r="3.0" fill="#bb0000"/>
<circle cx="173.30" cy="359.60" r="3.0" fill="#bb0000"/>
<circle cx="222.00" cy="384.10" r="3.0" fill="#bb0000"/>
<circle cx="270.90" cy="417.70" r="3.0" fill="#bb0000"/>
<text transform="translate(54.50,510.10) rotate(18.4)" x="0" y="8.2" font-size="10.4" fill="#1a1a1a" stroke="#1a1a1a" stroke-width="0.25">CoPc/CNT(I)</text>
<text transform="translate(102.00,510.10) rotate(18.4)" x="0" y="8.2" font-size="10.4" fill="#1a1a1a" stroke="#1a1a1a" stroke-width="0.25">CoPc/CNT(II)</text>
<text transform="translate(150.00,510.10) rotate(18.4)" x="0" y="8.2" font-size="10.4" fill="#1a1a1a" stroke="#1a1a1a" stroke-width="0.25">CoPc/CNT(III)</text>
<text transform="translate(198.20,510.10) rotate(18.4)" x="0" y="8.2" font-size="10.4" fill="#1a1a1a" stroke="#1a1a1a" stroke-width="0.25">CoPc/CNT(IV)</text>
<text transform="translate(248.30,510.10) rotate(18.4)" x="0" y="8.2" font-size="10.4" fill="#1a1a1a" stroke="#1a1a1a" stroke-width="0.25">CoPc/CNT(V)</text>
<text transform="translate(23.80,406.00) rotate(-90)" x="0" y="0" font-size="10.2" text-anchor="middle" fill="#1a1a1a" stroke="#1a1a1a" stroke-width="0.25"><tspan font-size="10.2" dy="0.00">FE of CH</tspan><tspan font-size="6.6" dy="2.40">3</tspan><tspan font-size="10.2" dy="-2.40">OH (%)</tspan></text>
<text transform="translate(327.40,406.30) rotate(-90)" x="0" y="0" font-size="10.4" text-anchor="middle" fill="#bb0000" stroke="#bb0000" stroke-width="0.25"><tspan font-size="10.4" dy="0.00">Partial current density (mA/cm</tspan><tspan font-size="7" dy="-3.60">2</tspan><tspan font-size="10.4" dy="3.60">)</tspan></text>
<text x="0.00" y="310.80" font-size="10.2" text-anchor="start" fill="#1a1a1a" stroke="#1a1a1a" stroke-width="0.35" font-weight="bold">c</text>
<rect x="434.90" y="455.60" width="20.20" height="52.60" fill="#b89cd9" stroke="#7346ad" stroke-width="1.0"/>
<rect x="434.90" y="445.30" width="20.20" height="10.30" fill="#8bc1ea" stroke="#2f86c6" stroke-width="1.0"/>
<rect x="434.90" y="344.00" width="20.20" height="101.30" fill="#c0c0c0" stroke="#8e8e8e" stroke-width="1.0"/>
<rect x="517.40" y="433.40" width="20.20" height="74.80" fill="#b89cd9" stroke="#7346ad" stroke-width="1.0"/>
<rect x="517.40" y="396.30" width="20.20" height="37.10" fill="#8bc1ea" stroke="#2f86c6" stroke-width="1.0"/>
<rect x="517.40" y="354.40" width="20.20" height="41.90" fill="#c0c0c0" stroke="#8e8e8e" stroke-width="1.0"/>
<rect x="599.60" y="506.90" width="20.20" height="1.30" fill="#b89cd9" stroke="#7346ad" stroke-width="1.0"/>
<rect x="599.60" y="338.30" width="20.20" height="168.60" fill="#8bc1ea" stroke="#2f86c6" stroke-width="1.0"/>
<rect x="599.60" y="334.30" width="20.20" height="4.00" fill="#c0c0c0" stroke="#8e8e8e" stroke-width="1.0"/>
<line x1="404.00" y1="303.50" x2="404.00" y2="509.00" stroke="#000" stroke-width="1.6"/>
<line x1="403.20" y1="304.30" x2="651.00" y2="304.30" stroke="#000" stroke-width="1.6"/>
<line x1="403.20" y1="508.20" x2="651.00" y2="508.20" stroke="#000" stroke-width="1.6"/>
<line x1="400.20" y1="508.20" x2="404.00" y2="508.20" stroke="#000" stroke-width="1.1"/>
<text x="397.70" y="511.80" font-size="10.2" text-anchor="end" fill="#1a1a1a" stroke="#1a1a1a" stroke-width="0.25" font-weight="normal">0</text>
<line x1="400.20" y1="471.28" x2="404.00" y2="471.28" stroke="#000" stroke-width="1.1"/>
<text x="397.70" y="474.88" font-size="10.2" text-anchor="end" fill="#1a1a1a" stroke="#1a1a1a" stroke-width="0.25" font-weight="normal">20</text>
<line x1="400.20" y1="434.36" x2="404.00" y2="434.36" stroke="#000" stroke-width="1.1"/>
<text x="397.70" y="437.96" font-size="10.2" text-anchor="end" fill="#1a1a1a" stroke="#1a1a1a" stroke-width="0.25" font-weight="normal">40</text>
<line x1="400.20" y1="397.44" x2="404.00" y2="397.44" stroke="#000" stroke-width="1.1"/>
<text x="397.70" y="401.04" font-size="10.2" text-anchor="end" fill="#1a1a1a" stroke="#1a1a1a" stroke-width="0.25" font-weight="normal">60</text>
<line x1="400.20" y1="360.52" x2="404.00" y2="360.52" stroke="#000" stroke-width="1.1"/>
<text x="397.70" y="364.12" font-size="10.2" text-anchor="end" fill="#1a1a1a" stroke="#1a1a1a" stroke-width="0.25" font-weight="normal">80</text>
<line x1="400.20" y1="323.60" x2="404.00" y2="323.60" stroke="#000" stroke-width="1.1"/>
<text x="397.70" y="327.20" font-size="10.2" text-anchor="end" fill="#1a1a1a" stroke="#1a1a1a" stroke-width="0.25" font-weight="normal">100</text>
<line x1="401.80" y1="489.74" x2="404.00" y2="489.74" stroke="#000" stroke-width="1.1"/>
<line x1="401.80" y1="452.82" x2="404.00" y2="452.82" stroke="#000" stroke-width="1.1"/>
<line x1="401.80" y1="415.90" x2="404.00" y2="415.90" stroke="#000" stroke-width="1.1"/>
<line x1="401.80" y1="378.98" x2="404.00" y2="378.98" stroke="#000" stroke-width="1.1"/>
<line x1="401.80" y1="342.06" x2="404.00" y2="342.06" stroke="#000" stroke-width="1.1"/>
<line x1="401.80" y1="305.14" x2="404.00" y2="305.14" stroke="#000" stroke-width="1.1"/>
<line x1="651.00" y1="303.45" x2="651.00" y2="509.05" stroke="#bb0000" stroke-width="1.35"/>
<line x1="651.00" y1="508.20" x2="655.00" y2="508.20" stroke="#bb0000" stroke-width="1.1"/>
<text x="654.60" y="511.80" font-size="10.7" text-anchor="start" fill="#bb0000" stroke="#bb0000" stroke-width="0.25" font-weight="normal">0</text>
<line x1="651.00" y1="426.85" x2="655.00" y2="426.85" stroke="#bb0000" stroke-width="1.1"/>
<text x="654.60" y="430.45" font-size="10.7" text-anchor="start" fill="#bb0000" stroke="#bb0000" stroke-width="0.25" font-weight="normal">100</text>
<line x1="651.00" y1="345.50" x2="655.00" y2="345.50" stroke="#bb0000" stroke-width="1.1"/>
<text x="654.60" y="349.10" font-size="10.7" text-anchor="start" fill="#bb0000" stroke="#bb0000" stroke-width="0.25" font-weight="normal">200</text>
<line x1="651.00" y1="467.52" x2="652.90" y2="467.52" stroke="#bb0000" stroke-width="1.1"/>
<line x1="651.00" y1="386.17" x2="652.90" y2="386.17" stroke="#bb0000" stroke-width="1.1"/>
<line x1="651.00" y1="304.82" x2="652.90" y2="304.82" stroke="#bb0000" stroke-width="1.1"/>
<line x1="449.20" y1="495.61" x2="523.00" y2="494.09" stroke="#bb0000" stroke-width="1.35"/>
<line x1="529.11" y1="490.26" x2="607.69" y2="335.84" stroke="#bb0000" stroke-width="1.35"/>
<circle cx="445.00" cy="495.70" r="3.0" fill="#bb0000"/>
<circle cx="527.20" cy="494.00" r="3.0" fill="#bb0000"/>
<circle cx="609.60" cy="332.10" r="3.0" fill="#bb0000"/>
<text x="453.50" y="528.50" font-size="10.2" text-anchor="middle" fill="#1a1a1a" stroke="#1a1a1a" stroke-width="0.25" font-weight="normal"><tspan font-size="10.2" dy="0.00">10 vol.% CO</tspan><tspan font-size="6.6" dy="2.40">2</tspan></text>
<text x="534.50" y="528.50" font-size="10.2" text-anchor="middle" fill="#1a1a1a" stroke="#1a1a1a" stroke-width="0.25" font-weight="normal"><tspan font-size="10.2" dy="0.00">100 vol.% CO</tspan><tspan font-size="6.6" dy="2.40">2</tspan></text>
<text x="608.70" y="528.50" font-size="10.2" text-anchor="middle" fill="#1a1a1a" stroke="#1a1a1a" stroke-width="0.25" font-weight="normal">Flow cell</text>
<text transform="translate(375.60,406.80) rotate(-90)" x="0" y="0" font-size="10.2" text-anchor="middle" fill="#1a1a1a" stroke="#1a1a1a" stroke-width="0.25">FE (%)</text>
<text transform="translate(682.80,406.50) rotate(-90)" x="0" y="0" font-size="10.2" text-anchor="middle" fill="#bb0000" stroke="#bb0000" stroke-width="0.25"><tspan font-size="10.2" dy="0.00">Current density (mA/cm</tspan><tspan font-size="7" dy="-3.60">2</tspan><tspan font-size="10.2" dy="3.60">)</tspan></text>
<text x="357.00" y="311.00" font-size="10.2" text-anchor="start" fill="#1a1a1a" stroke="#1a1a1a" stroke-width="0.35" font-weight="bold">d</text>
</svg>
</body></html>
